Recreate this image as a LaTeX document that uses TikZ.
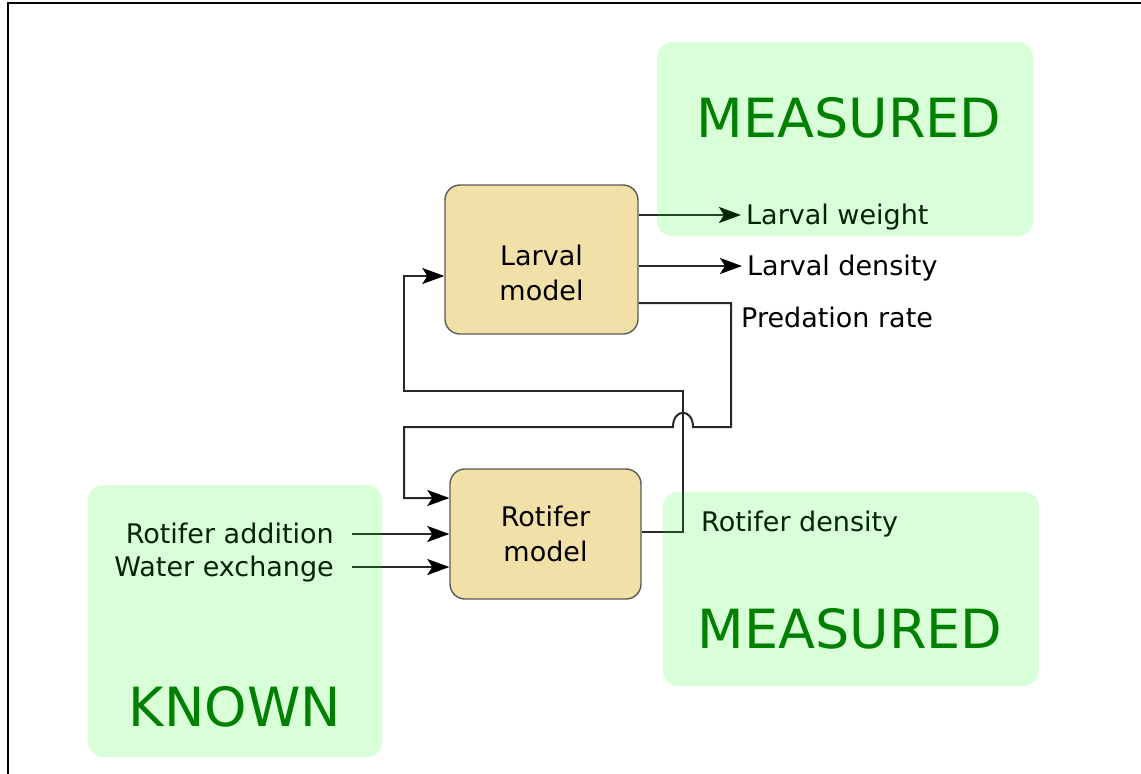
\documentclass[tikz,border=0pt]{standalone}
\usepackage{fontspec}
\setmainfont{DejaVu Sans}
\usetikzlibrary{arrows.meta,calc}
\definecolor{tanfill}{RGB}{241,225,168}
\definecolor{edgegray}{RGB}{90,90,90}
\definecolor{wiregray}{RGB}{40,40,40}
\definecolor{measgreen}{RGB}{0,128,0}
\definecolor{zonegreen}{RGB}{0,255,0}

\begin{document}
\begin{tikzpicture}[x=1pt,y=-1pt,
  model/.style={draw=edgegray, line width=1.4pt, fill=tanfill, rounded corners=15pt,
    align=center, font=\fontsize{27}{35}\selectfont, inner sep=0pt},
  modeltext/.style={align=center, font=\fontsize{27}{35}\selectfont, inner sep=0pt},
  lbl/.style={font=\fontsize{27}{33}\selectfont, text height=19.7pt, text depth=0pt, inner sep=5pt},
  big/.style={font=\fontsize{54}{60}\selectfont, text=measgreen, text height=39.4pt,
    text depth=0pt, inner sep=0pt},
  zone/.style={fill=zonegreen, fill opacity=0.15, rounded corners=15pt, inner sep=0pt},
  wire/.style={draw=wiregray, line width=2pt},
  arr/.style={wire, -{Stealth[length=22pt,width=16pt,inset=5pt,color=black]}}]

\useasboundingbox (0,0) rectangle (1141,774);
\draw[line width=2.5pt] (8,774) -- (8,3) -- (1141,3);

% model blocks
\node[model, minimum width=193pt, minimum height=149pt,
  label={[modeltext, yshift=-13pt]center:{Larval\\model}}] (larval) at (541.5,259.5) {};
\node[model, minimum width=191pt, minimum height=130pt] (rotifer) at (545.5,534) {Rotifer\\model};

% signal labels
\node[lbl, anchor=west] (lw) at (741,215) {Larval weight};
\node[lbl, anchor=west] (ld) at (742,266) {Larval density};
\node[lbl, anchor=west] (pr) at (736,318) {Predation rate};
\node[lbl, anchor=west] (rd) at (696,522) {Rotifer density};
\node[lbl, anchor=east] (ra) at (339,534) {Rotifer addition};
\node[lbl, anchor=east] (we) at (339,567) {Water exchange};

% outputs of the larval model
\draw[arr] (larval.east |- lw.west) -- (lw.west);
\draw[arr] (larval.east |- ld.west) -- (ld.west);

% predation rate fed back into the rotifer model (hops over the crossing wire)
\draw[arr] ($(larval.east)+(0,43.5)$) -- (731,303) -- (731,427) -- (693,427)
  .. controls (693,408) and (673,408) .. (673,427)
  -- (404,427) -- (404,498) -- (rotifer.west |- 0,498);

% rotifer density fed into the larval model
\draw[arr] ($(rotifer.east)+(0,-2)$) -- (683,532) -- (683,391) -- (404,391)
  -- (404,276) -- (larval.west |- 0,276);

% external inputs
\draw[arr, shorten <=13pt] (ra.east) -- (rotifer.west |- ra.east);
\draw[arr, shorten <=13pt] (we.east) -- (rotifer.west |- we.east);

% translucent zones
\node[zone, minimum width=376pt, minimum height=194pt] (mtop) at (845,139) {};
\node[zone, minimum width=376pt, minimum height=194pt] (mbot) at (851,589) {};
\node[zone, minimum width=294pt, minimum height=272pt] (known) at (235,621) {};

\node[big] (mtoplabel) at (849,118) {MEASURED};
\node[big] (mbotlabel) at (850,629) {MEASURED};
\node[big] (knownlabel) at (235,707) {KNOWN};
\end{tikzpicture}
\end{document}
